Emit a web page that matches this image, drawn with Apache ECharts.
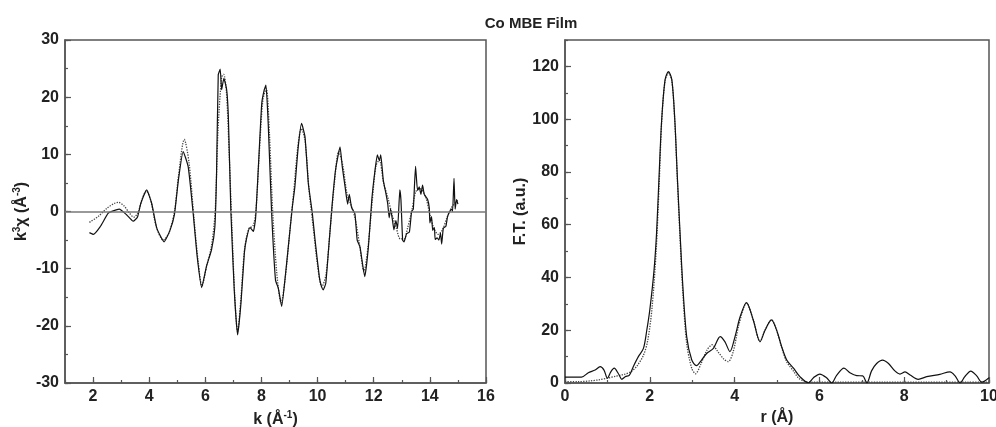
<!DOCTYPE html>
<html>
<head>
<meta charset="utf-8">
<script src="https://cdn.jsdelivr.net/npm/echarts@6/dist/echarts.min.js"></script>
<style>
  html, body { margin: 0; padding: 0; background: #fff; }
  #chart { width: 996px; height: 427px; }
</style>
</head>
<body>
<div id="chart"></div>
<script>
// EXAFS of a Co MBE film: k^3-weighted chi(k) and its Fourier transform.
// Solid = measured, dotted = fit.

const kMeas = [1.87,2.01,2.25,2.54,2.72,2.93,3.2,3.43,3.58,3.70,3.91,4.09,4.27,4.53,4.74,4.9,5.04,5.21,5.39,5.57,5.71,5.87,6.04,6.22,6.34,6.40,6.46,6.53,6.58,6.66,6.76,6.82,6.91,7.03,7.15,7.27,7.39,7.47,7.59,7.71,7.79,7.89,8.01,8.10,8.16,8.24,8.36,8.5,8.6,8.72,8.86,8.98,9.1,9.19,9.31,9.43,9.55,9.67,9.81,9.91,10.06,10.12,10.2,10.29,10.38,10.52,10.64,10.8,10.88,10.98,11.07,11.13,11.21,11.33,11.41,11.51,11.68,11.81,11.93,12.04,12.13,12.2,12.25,12.34,12.44,12.5,12.55,12.6,12.67,12.72,12.79,12.85,12.93,12.97,13.03,13.08,13.17,13.27,13.35,13.41,13.49,13.56,13.62,13.68,13.74,13.8,13.92,13.98,14.0,14.06,14.1,14.16,14.19,14.26,14.32,14.38,14.42,14.48,14.57,14.63,14.71,14.78,14.81,14.86,14.9,14.95,15.0];
const chiMeas = [-3.7,-4.0,-2.7,-0.3,0.1,0.4,-0.6,-1.7,-1.0,1.4,3.8,1.4,-2.9,-5.3,-3.3,-0.5,5.5,10.5,7.8,-0.5,-7.9,-13.3,-9.6,-6.7,-2.7,6.7,23.9,24.9,21.3,23.3,21.3,16.6,0,-13.7,-21.6,-16,-7.3,-4.7,-2.8,-3.5,-1.2,7.8,18.9,21.3,22.1,15.4,0,-12,-13.4,-16.6,-10.8,-5,0.8,4.3,11.3,15.4,13.1,4.9,-0.2,-5,-11.4,-12.8,-13.7,-12.6,-7.3,1.3,7.3,11.3,7.8,4.3,1.3,3.0,0.7,-0.4,-5,-6.2,-11.4,-6.2,2,7,9.9,8.9,9.9,5.5,3.0,1.3,-1.1,0.4,-1.6,-3.2,-1.6,-3,3.8,2,-5,-5.3,-3.9,-3.6,0,0.4,7.9,3.7,4.3,3,4.6,3,2.1,0.6,-2,-0.9,-3.3,-2.8,-4.9,-4.6,-5,-3.8,-5.7,-2.9,-2.6,-0.9,0,0.4,0,5.8,0.4,2.1,1.3];

const kFit = [1.87,2.2,2.5,2.75,2.9,3.1,3.3,3.45,3.6,3.75,3.9,4.05,4.25,4.5,4.7,4.9,5.05,5.25,5.42,5.6,5.75,5.88,6.05,6.22,6.35,6.45,6.58,6.65,6.75,6.85,6.95,7.05,7.15,7.27,7.4,7.55,7.7,7.8,7.92,8.05,8.17,8.28,8.4,8.55,8.7,8.85,9.0,9.15,9.3,9.42,9.55,9.7,9.85,10.0,10.15,10.3,10.45,10.6,10.75,10.9,11.05,11.2,11.35,11.5,11.65,11.8,11.95,12.08,12.2,12.35,12.5,12.65,12.8,12.95,13.08,13.2,13.35,13.5,13.65,13.85,14.0,14.15,14.3,14.45,14.6,14.75,14.9,15.0];
const chiFit = [-1.9,-0.8,0.6,1.4,1.6,1.0,-0.3,-1.0,-0.2,2.2,3.6,2.0,-2.6,-5.0,-3.8,0,6.5,12.6,8.5,-1.5,-9,-13.0,-9.5,-6,0,14,23.5,24.0,21,10,-3,-15,-21.0,-15,-6.5,-3,-2.5,0,10,19.5,21.5,14,0,-11,-16,-11.5,-4,3.5,11.5,14.5,12.5,3.5,-3,-9.5,-13.2,-11,-3,5,10.5,8,3,1.0,-1.5,-6,-10.5,-6,2,8,9.0,5,2.5,-0.5,-2.8,-4.8,-4.8,-3,0,3.5,4,2.5,-0.5,-3,-4,-3.2,-1.2,0.5,1.5,2];

const rMeas = [0,0.39,0.55,0.71,0.83,0.92,1.0,1.08,1.16,1.26,1.34,1.42,1.52,1.61,1.73,1.85,1.93,2.0,2.10,2.16,2.22,2.28,2.36,2.44,2.52,2.59,2.65,2.71,2.78,2.87,2.99,3.1,3.22,3.34,3.5,3.66,3.77,3.89,4.01,4.13,4.28,4.44,4.6,4.72,4.87,4.99,5.11,5.23,5.39,5.54,5.74,5.86,6.01,6.17,6.29,6.41,6.58,6.72,6.88,7.02,7.12,7.23,7.35,7.49,7.63,7.78,7.9,8.02,8.14,8.33,8.53,8.84,9.08,9.2,9.32,9.43,9.57,9.71,9.83,10.0];
const ftMeas = [2.2,2.2,3.9,4.9,6.2,4.9,1.8,4.2,5.6,3.5,1.4,2.4,3.0,6.2,10,13.1,20.1,27.7,42.8,57,79,99.7,114.9,118,114.9,99.7,78,58,36.5,17.6,8.7,6.6,8.7,11.2,13.1,17.6,15.7,11.9,17.6,25.1,30.5,23.9,15.7,20.1,23.9,20.1,13.8,8.7,5.6,2.4,0.1,2,3.4,2,0,3.0,5.6,3.9,2.8,2.7,0,4.6,7.4,8.7,7.4,4.6,3.4,4.2,3.0,1.4,2.4,3.3,4.2,2.7,0,2.4,4.5,2.7,0.3,2];

const rFit = [0,0.3,0.6,0.8,1.0,1.2,1.4,1.55,1.7,1.85,1.95,2.05,2.15,2.22,2.28,2.36,2.44,2.52,2.59,2.65,2.71,2.78,2.87,2.99,3.08,3.2,3.35,3.47,3.6,3.75,3.85,3.97,4.1,4.28,4.44,4.6,4.72,4.87,4.99,5.11,5.23,5.39,5.5,5.62,5.8,6.5,7.5,8.5,9.5,10];
const ftFit = [0.5,0.5,0.8,1.2,1.8,2.6,3.3,4.2,6.5,10.5,16,28,50,75,99,114.5,117.5,114.5,99,77,56,34,15,5.5,3.5,7,12.5,14.5,12,9,8.1,12,22,30.3,23.9,15.7,20.1,23.9,20,13.5,8,4.5,2,0.8,0.3,0.3,0.3,0.3,0.3,0.3];

const kLabels = [2,4,6,8,10,12,14,16];
const chiLabels = [-30,-20,-10,0,10,20,30];
const rLabels = [0,2,4,6,8,10];
const ftLabels = [0,20,40,60,80,100,120];

const pairs = (xs, ys) => xs.map((x, i) => [x, ys[i]]);

const FONT = "'Liberation Sans', Arial, sans-serif";
const INK = '#222';
const FRAME = '#555';

const labelStyle = { fontFamily: FONT, fontSize: 16, fontWeight: 'bold', color: INK };
const nameStyle = {
  fontFamily: FONT, fontSize: 16, fontWeight: 'bold', color: INK,
  rich: {
    a: { fontFamily: FONT, fontSize: 16, fontWeight: 'bold', color: INK, lineHeight: 19 },
    s: { fontFamily: FONT, fontSize: 10, fontWeight: 'bold', color: INK, verticalAlign: 'top', lineHeight: 19 }
  }
};

// main axis: short ticks at every step, labels only at the listed values
function mainAxis(grid, min, max, step, labels, extra) {
  return Object.assign({
    type: 'value', gridIndex: grid, min: min, max: max, interval: step,
    axisLine: { show: true, onZero: false, lineStyle: { color: FRAME, width: 1.5 } },
    axisTick: { show: true, inside: true, length: 3, lineStyle: { color: FRAME, width: 1.2 } },
    axisLabel: Object.assign({ customValues: labels, margin: 6 }, labelStyle),
    splitLine: { show: false }
  }, extra);
}
// overlay axis carrying the longer ticks at labelled values
function majorTickAxis(grid, min, max, labels, position) {
  return {
    type: 'value', gridIndex: grid, min: min, max: max, position: position,
    axisLine: { show: false, onZero: false },
    axisTick: { show: true, inside: true, length: 6, customValues: labels, lineStyle: { color: FRAME, width: 1.2 } },
    axisLabel: { show: false },
    splitLine: { show: false }
  };
}

const option = {
  animation: false,
  backgroundColor: '#fff',
  title: {
    text: 'Co MBE Film', left: 526, top: 11, textAlign: 'center',
    textStyle: { fontFamily: FONT, fontSize: 15, fontWeight: 'bold', color: INK }
  },
  grid: [
    { left: 65, top: 40, width: 421, height: 343, show: true, borderColor: FRAME, borderWidth: 1.5, outerBoundsMode: 'none' },
    { left: 565, top: 40, width: 424, height: 343, show: true, borderColor: FRAME, borderWidth: 1.5, outerBoundsMode: 'none' }
  ],
  xAxis: [
    mainAxis(0, 1, 16, 1, kLabels, {
      position: 'bottom',
      name: '{a|k (Å}{s|-1}{a|)}', nameLocation: 'middle', nameGap: 26, nameTextStyle: nameStyle
    }),
    majorTickAxis(0, 1, 16, kLabels, 'bottom'),
    mainAxis(1, 0, 10, 1, rLabels, {
      position: 'bottom',
      name: 'r (Å)', nameLocation: 'middle', nameGap: 23, nameTextStyle: nameStyle
    }),
    majorTickAxis(1, 0, 10, rLabels, 'bottom')
  ],
  yAxis: [
    mainAxis(0, -30, 30, 5, chiLabels, {
      position: 'left',
      name: '{a|k}{s|3}{a|χ (Å}{s|-3}{a|)}', nameLocation: 'middle', nameGap: 34, nameRotate: 90,
      nameTextStyle: nameStyle
    }),
    majorTickAxis(0, -30, 30, chiLabels, 'left'),
    mainAxis(1, 0, 130, 10, ftLabels, {
      position: 'left',
      name: 'F.T. (a.u.)', nameLocation: 'middle', nameGap: 36, nameRotate: 90,
      nameTextStyle: nameStyle
    }),
    majorTickAxis(1, 0, 130, ftLabels, 'left')
  ],
  series: [
    {
      name: 'fit chi', type: 'line', xAxisIndex: 0, yAxisIndex: 0,
      data: pairs(kFit, chiFit), showSymbol: false, smooth: 0.3,
      lineStyle: { color: '#444', width: 1.3, type: 'dotted' }, z: 2
    },
    {
      name: 'measured chi', type: 'line', xAxisIndex: 0, yAxisIndex: 0,
      data: pairs(kMeas, chiMeas), showSymbol: false, smooth: 0.15,
      lineStyle: { color: '#111', width: 1.2 }, z: 3,
      markLine: {
        silent: true, symbol: 'none', label: { show: false },
        lineStyle: { color: '#777', width: 1.5, type: 'solid' },
        data: [{ yAxis: 0 }]
      }
    },
    {
      name: 'fit FT', type: 'line', xAxisIndex: 2, yAxisIndex: 2,
      data: pairs(rFit, ftFit), showSymbol: false, smooth: 0.3,
      lineStyle: { color: '#444', width: 1.3, type: 'dotted' }, z: 2
    },
    {
      name: 'measured FT', type: 'line', xAxisIndex: 2, yAxisIndex: 2,
      data: pairs(rMeas, ftMeas), showSymbol: false, smooth: 0.3,
      lineStyle: { color: '#111', width: 1.2 }, z: 3
    }
  ]
};

const chart = echarts.init(document.getElementById('chart'), null, { renderer: 'canvas' });
chart.setOption(option);
</script>
</body>
</html>
